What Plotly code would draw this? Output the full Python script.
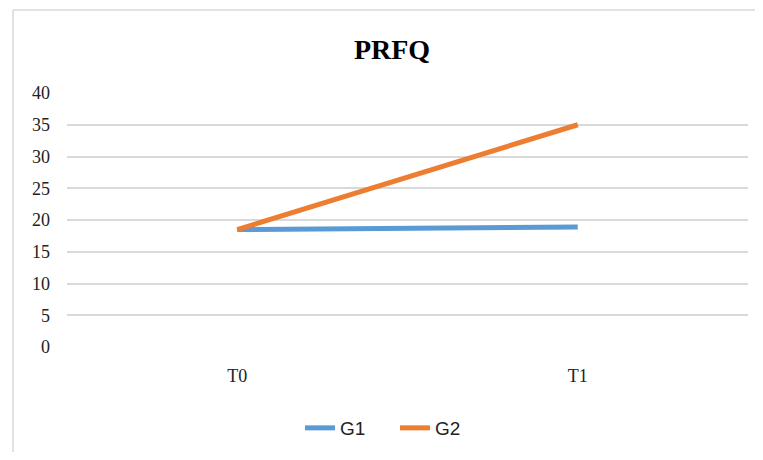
import plotly.graph_objects as go

categories = ["T0", "T1"]
g1_values = [18.5, 18.9]
g2_values = [18.5, 35.0]
y_ticks = [0, 5, 10, 15, 20, 25, 30, 35, 40]

# page body has an 8px margin; size figure so no scrollbars appear
OFF = 8
W, H = 763 - 2 * OFF, 460 - 2 * OFF
L, T = 67 - OFF, 93 - OFF
R = W - (748 - OFF)
B = H - (347 - OFF)

pw = W - L - R
ph = H - T - B

def px_x(x):
    return (x - OFF - L) / pw

def px_y(y):
    return ((347 - OFF) - (y - OFF)) / ph

fig = go.Figure()
fig.add_trace(go.Scatter(x=categories, y=g1_values, mode="lines", name="G1",
                         line=dict(color="#5B9BD5", width=5)))
fig.add_trace(go.Scatter(x=categories, y=g2_values, mode="lines", name="G2",
                         line=dict(color="#ED7D31", width=5)))

# outer chart border (top and left edges visible)
fig.add_shape(type="line", xref="paper", yref="paper",
              x0=px_x(13), x1=px_x(800), y0=px_y(10), y1=px_y(10),
              line=dict(color="#d9d9d9", width=1.5), layer="below")
fig.add_shape(type="line", xref="paper", yref="paper",
              x0=px_x(13), x1=px_x(13), y0=px_y(10), y1=px_y(500),
              line=dict(color="#d9d9d9", width=1.5), layer="below")

fig.update_layout(
    width=W, height=H,
    margin=dict(l=L, r=R, t=T, b=B, autoexpand=False),
    paper_bgcolor="white", plot_bgcolor="white",
    title=dict(text="<b>PRFQ</b>", x=px_x(392), xanchor="center", xref="paper",
               y=1 - (49 - OFF) / H, yanchor="middle",
               font=dict(family="Liberation Serif", size=28, color="#000000")),
    xaxis=dict(range=[-0.5, 1.5], showgrid=False, zeroline=False, showline=False,
               ticks="", tickfont=dict(family="Liberation Serif", size=18, color="#222"),
               ticklabelstandoff=16),
    yaxis=dict(range=[0, 40], tickvals=y_ticks, showgrid=True, gridcolor="#d9d9d9", gridwidth=1.5,
               zeroline=False, showline=False, ticks="",
               tickfont=dict(family="Liberation Serif", size=18, color="#222"),
               ticklabelstandoff=16),
    legend=dict(orientation="h", x=px_x(395), xanchor="center", y=px_y(428), yanchor="middle",
                font=dict(family="Liberation Sans", size=19, color="#222"),
                tracegroupgap=0, entrywidth=50),
    showlegend=True,
)

fig.write_html("out.html")
